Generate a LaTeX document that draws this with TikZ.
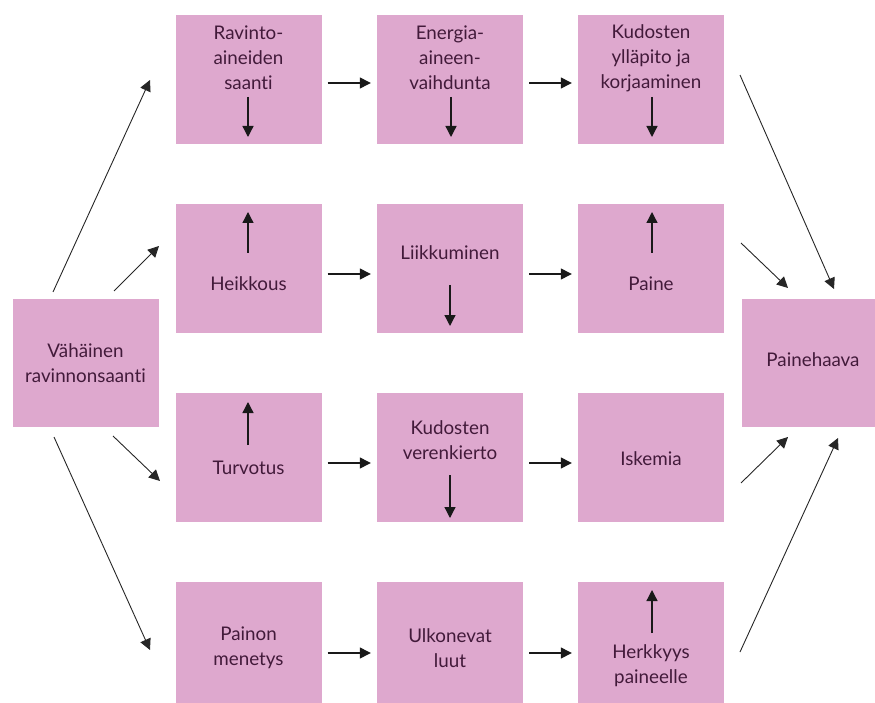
\documentclass[tikz,border=0pt]{standalone}
\usepackage{fontspec}
\setmainfont{Lato}[Ligatures=NoCommon]
\usetikzlibrary{arrows.meta}
\definecolor{boxpink}{RGB}{222,168,206}
\definecolor{txt}{RGB}{66,26,58}
\tikzset{
  box/.style={fill=boxpink, draw=none, inner sep=0pt, minimum width=146pt, minimum height=129pt},
  lbl/.style={text=txt, align=center, inner sep=0pt, font=\fontsize{18.8}{25}\selectfont},
  arr/.style={-{Triangle[length=11pt,width=11pt]}, line width=1.3pt, draw=black!90},
  darr/.style={-{Triangle[length=11pt,width=11pt]}, line width=0.9pt, draw=black!85}
}
\begin{document}
\begin{tikzpicture}[x=1pt,y=-1pt]
\useasboundingbox (0,0) rectangle (875,703);
% boxes
\node[box] (b11) at (248.5,79.5) {};
\node[box] (b12) at (450,79.5) {};
\node[box] (b13) at (651,79.5) {};
\node[box] (b21) at (248.5,268.5) {};
\node[box] (b22) at (450,268.5) {};
\node[box] (b23) at (651,268.5) {};
\node[box] (b31) at (248.5,457.5) {};
\node[box] (b32) at (450,457.5) {};
\node[box] (b33) at (651,457.5) {};
\node[box, minimum height=121pt] (b41) at (248.5,642.5) {};
\node[box, minimum height=121pt] (b42) at (450,642.5) {};
\node[box, minimum height=121pt] (b43) at (651,642.5) {};
\node[box, minimum height=128pt] (left) at (85.5,363) {};
\node[box, minimum width=133pt, minimum height=128pt] (right) at (808.5,363) {};
% texts
\node[lbl] (t11) at (248.5,58) {Ravinto-\\aineiden\\saanti};
\node[lbl] (t12) at (450,58) {Energia-\\aineen-\\vaihdunta};
\node[lbl] (t13) at (651,58) {Kudosten\\ylläpito ja\\korjaaminen};
\node[lbl] (t21) at (248.5,284) {Heikkous};
\node[lbl] (t22) at (450,253) {Liikkuminen};
\node[lbl] (t23) at (651,284) {Paine};
\node[lbl] (t31) at (248.5,468) {Turvotus};
\node[lbl] (t32) at (450,440) {Kudosten\\verenkierto};
\node[lbl] (t33) at (651,459) {Iskemia};
\node[lbl] (t41) at (248.5,648) {Painon\\menetys};
\node[lbl] (t42) at (450,648) {Ulkonevat\\luut};
\node[lbl] (t43) at (651,665.5) {Herkkyys\\paineelle};
\node[lbl] (tl) at (85.5,363) {Vähäinen\\ravinnonsaanti};
\node[lbl] (tr) at (813,360) {Painehaava};
% internal vertical arrows
\coordinate (a11s) at (248,97); \coordinate (a11e) at (248,137);
\coordinate (a12s) at (451,97); \coordinate (a12e) at (451,137);
\coordinate (a13s) at (652,97); \coordinate (a13e) at (652,137);
\coordinate (a21s) at (248,253); \coordinate (a21e) at (248,212);
\coordinate (a22s) at (450,285); \coordinate (a22e) at (450,326);
\coordinate (a23s) at (652,253); \coordinate (a23e) at (652,212);
\coordinate (a31s) at (248,445); \coordinate (a31e) at (248,402);
\coordinate (a32s) at (450,475); \coordinate (a32e) at (450,518);
\coordinate (a43s) at (652,633); \coordinate (a43e) at (652,590);
\foreach \n in {11,12,13,21,22,23,31,32,43} \draw[arr] (a\n s) -- (a\n e);
% horizontal arrows between boxes
\draw[arr] ([xshift=6pt]b11.east |- 0,83) -- ([xshift=-6pt]b12.west |- 0,83);
\draw[arr] ([xshift=6pt]b12.east |- 0,83) -- ([xshift=-6pt]b13.west |- 0,83);
\draw[arr] ([xshift=6pt]b21.east |- 0,274) -- ([xshift=-6pt]b22.west |- 0,274);
\draw[arr] ([xshift=6pt]b22.east |- 0,274) -- ([xshift=-6pt]b23.west |- 0,274);
\draw[arr] ([xshift=6pt]b31.east |- 0,463) -- ([xshift=-6pt]b32.west |- 0,463);
\draw[arr] ([xshift=6pt]b32.east |- 0,463) -- ([xshift=-6pt]b33.west |- 0,463);
\draw[arr] ([xshift=6pt]b41.east |- 0,653) -- ([xshift=-6pt]b42.west |- 0,653);
\draw[arr] ([xshift=6pt]b42.east |- 0,653) -- ([xshift=-6pt]b43.west |- 0,653);
% diagonal arrows from the left box
\coordinate (l1s) at (53,292);  \coordinate (l1e) at (150,80);
\coordinate (l2s) at (114,291); \coordinate (l2e) at (159,246);
\coordinate (l3s) at (113,436); \coordinate (l3e) at (160,481);
\coordinate (l4s) at (54,437);  \coordinate (l4e) at (150,650);
\foreach \n in {1,2,3,4} \draw[darr] (l\n s) -- (l\n e);
% diagonal arrows to the right box
\coordinate (r1s) at (740,75);  \coordinate (r1e) at (834,289);
\coordinate (r2s) at (741,243); \coordinate (r2e) at (788,288);
\coordinate (r3s) at (741,483); \coordinate (r3e) at (788,437);
\coordinate (r4s) at (740,652); \coordinate (r4e) at (838,438);
\foreach \n in {1,2,3,4} \draw[darr] (r\n s) -- (r\n e);
\end{tikzpicture}
\end{document}
